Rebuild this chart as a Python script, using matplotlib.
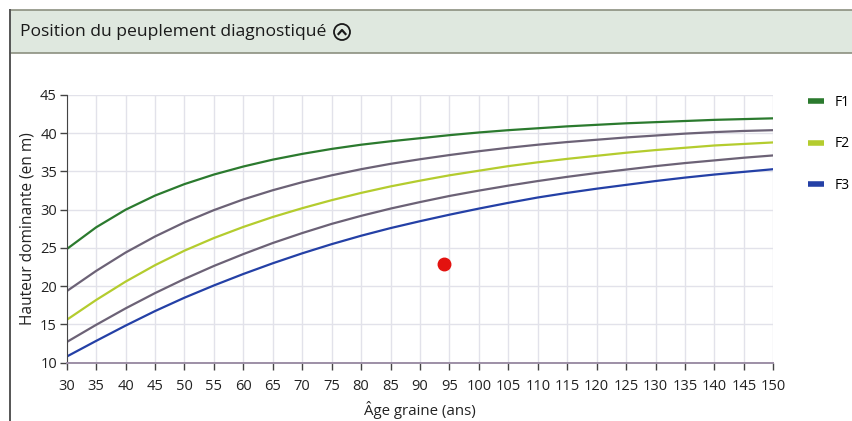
import numpy as np
import matplotlib.pyplot as plt
from matplotlib.patches import Rectangle, Circle
from matplotlib.lines import Line2D

plt.rcParams['font.family'] = ['Open Sans', 'DejaVu Sans']

# --- data ---
ages = [30, 35, 40, 45, 50, 55, 60, 65, 70, 75, 80, 85, 90,
        95, 100, 105, 110, 115, 120, 125, 130, 135, 140, 145, 150]

f1 = [24.85, 27.7, 30.0, 31.85, 33.35, 34.6, 35.65, 36.55, 37.3, 37.95, 38.5, 38.95, 39.35,
      39.75, 40.1, 40.4, 40.65, 40.9, 41.1, 41.3, 41.45, 41.6, 41.75, 41.85, 41.95]
limit_12 = [19.35, 22.0, 24.4, 26.5, 28.35, 29.95, 31.35, 32.55, 33.6, 34.5, 35.3, 36.0, 36.6,
            37.15, 37.65, 38.1, 38.5, 38.85, 39.15, 39.45, 39.7, 39.95, 40.15, 40.3, 40.4]
f2 = [15.6, 18.2, 20.6, 22.75, 24.65, 26.3, 27.75, 29.05, 30.2, 31.25, 32.2, 33.05, 33.8,
      34.5, 35.1, 35.7, 36.2, 36.65, 37.05, 37.45, 37.8, 38.1, 38.4, 38.6, 38.8]
limit_23 = [12.7, 14.95, 17.1, 19.1, 20.95, 22.65, 24.2, 25.65, 26.95, 28.15, 29.2, 30.15, 31.0,
            31.8, 32.5, 33.15, 33.75, 34.3, 34.8, 35.25, 35.7, 36.1, 36.45, 36.8, 37.1]
f3 = [10.8, 12.85, 14.85, 16.75, 18.5, 20.1, 21.6, 23.0, 24.3, 25.5, 26.6, 27.6, 28.5,
      29.35, 30.15, 30.9, 31.6, 32.2, 32.75, 33.25, 33.75, 34.2, 34.6, 34.95, 35.3]

stand_age = [94]
stand_height = [22.9]

x_ticks = list(range(30, 151, 5))
y_ticks = list(range(10, 46, 5))

# colours
C_F1 = '#2b7a2e'
C_F2 = '#b4cc2e'
C_F3 = '#2440a6'
C_LIM = '#6c6276'
BORDER = '#8c9080'

W, H = 852, 421
fig = plt.figure(figsize=(W / 100, H / 100), dpi=100)

# --- panel frame / header ---
bg = fig.add_axes([0, 0, 1, 1])
bg.set_xlim(0, W)
bg.set_ylim(H, 0)
bg.axis('off')
bg.add_patch(Rectangle((10, 10), W, 43, facecolor='#dfe8df', edgecolor='none'))
bg.plot([10, W], [10, 10], color=BORDER, lw=1.2)
bg.plot([10, W], [53, 53], color=BORDER, lw=1.2)
bg.plot([10, 10], [10, H], color='#555555', lw=1.4)
bg.text(20, 32, 'Position du peuplement diagnostiqué', fontsize=12.6,
        color='#1a1a1a', va='center', ha='left')
bg.add_patch(Circle((342, 32), 8, facecolor='none', edgecolor='#1a1a1a', lw=1.3))
bg.plot([338.5, 342, 345.5], [34, 30, 34], color='#1a1a1a', lw=1.6)

# --- chart ---
left, right, top, bottom = 66.7, 773.3, 95, 362.7
ax = fig.add_axes([left / W, 1 - bottom / H, (right - left) / W, (bottom - top) / H])

line_kw = dict(lw=1.6, solid_joinstyle='round', solid_capstyle='butt')
ax.plot(ages, f1, color=C_F1, label='F1', **line_kw)
ax.plot(ages, limit_12, color=C_LIM, **line_kw)
ax.plot(ages, f2, color=C_F2, label='F2', **line_kw)
ax.plot(ages, limit_23, color=C_LIM, **line_kw)
ax.plot(ages, f3, color=C_F3, label='F3', **line_kw)
ax.plot(stand_age, stand_height, 'o', color='#e3120f', markersize=9, zorder=5)

ax.set_xlim(30, 150)
ax.set_ylim(10, 45)
ax.set_xticks(x_ticks)
ax.set_yticks(y_ticks)
ax.tick_params(axis='both', direction='out', length=5, width=1, color='#444444',
               labelsize=10.5, labelcolor='#222222', pad=2)
ax.tick_params(axis='x', pad=7)
ax.grid(True, color='#e2e2ea', lw=1)
ax.set_axisbelow(True)
for s in ['top', 'right']:
    ax.spines[s].set_visible(False)
ax.spines['left'].set_color('#444444')
ax.spines['bottom'].set_color('#9d8fa6')
ax.spines['bottom'].set_linewidth(1.4)

ax.set_xlabel('Âge graine (ans)', fontsize=10.8, color='#222222', labelpad=5)
ax.set_ylabel('Hauteur dominante (en m)', fontsize=11.2, color='#222222', labelpad=3)

# legend on the right
handles = [Line2D([], [], color=C_F1, lw=4, solid_capstyle='butt'),
           Line2D([], [], color=C_F2, lw=4, solid_capstyle='butt'),
           Line2D([], [], color=C_F3, lw=4, solid_capstyle='butt')]
fig.legend(handles, ['F1', 'F2', 'F3'], loc='upper left',
           bbox_to_anchor=(808 / W, 1 - 95 / H), frameon=False,
           borderpad=0, borderaxespad=0,
           handlelength=1.15, handletextpad=0.75, labelspacing=1.9, fontsize=10)

fig.savefig('out.png', dpi=100)
